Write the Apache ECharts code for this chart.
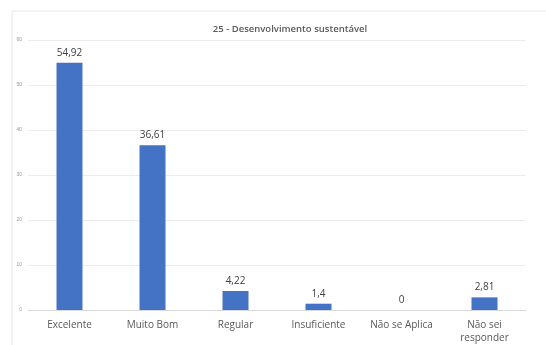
<!DOCTYPE html>
<html>
<head>
<meta charset="utf-8">
<script src="https://cdn.jsdelivr.net/npm/echarts@6/dist/echarts.min.js"></script>
<style>
  html, body { margin: 0; padding: 0; background: #fff; }
  #chart { width: 546px; height: 345px; }
</style>
</head>
<body>
<div id="chart"></div>
<script>
const categories = ['Excelente', 'Muito Bom', 'Regular', 'Insuficiente', 'Não se Aplica', 'Não sei\nresponder'];
const values = [54.92, 36.61, 4.22, 1.4, 0, 2.81];
const chartTitle = '25 - Desenvolvimento sustentável';

const myChart = echarts.init(document.getElementById('chart'));

const option = {
    animation: false,
    graphic: [
        {
            type: 'rect',
            shape: { x: 12, y: 11, width: 560, height: 360 },
            style: { fill: 'none', stroke: '#e6e6e6', lineWidth: 1 }
        }
    ],
    title: {
        text: chartTitle,
        left: 285,
        top: 19,
        textAlign: 'center',
        textStyle: { fontFamily: 'Open Sans', fontSize: 9.5, fontWeight: 600, color: '#595959' }
    },
    grid: { left: 28, right: 20, top: 40, bottom: 35 },
    xAxis: {
        type: 'category',
        data: categories,
        axisTick: { show: false },
        axisLine: { lineStyle: { color: '#d9d9d9' } },
        axisLabel: {
            interval: 0,
            margin: 9,
            fontFamily: 'Open Sans',
            fontSize: 10,
            color: '#595959',
            lineHeight: 13
        }
    },
    yAxis: {
        type: 'value',
        min: 0,
        max: 60,
        interval: 10,
        axisLine: { show: false },
        axisTick: { show: false },
        axisLabel: { fontSize: 5, color: '#999', margin: 6 },
        splitLine: { lineStyle: { color: '#ececec' } }
    },
    series: [
        {
            type: 'bar',
            data: values,
            barWidth: 26,
            itemStyle: { color: '#4472c4' },
            label: {
                show: true,
                position: 'top',
                distance: 5,
                fontFamily: 'Open Sans',
                fontSize: 10,
                color: '#404040',
                formatter: p => String(p.value).replace('.', ',')
            }
        }
    ]
};

myChart.setOption(option);
</script>
</body>
</html>
